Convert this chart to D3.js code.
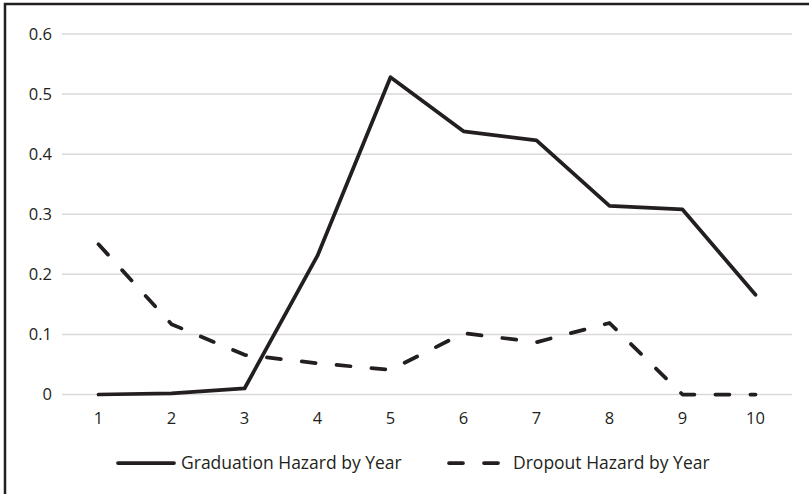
<!DOCTYPE html>
<html lang="en">
<head>
    <meta charset="UTF-8">
    <title>Graduation and Dropout Hazard by Year</title>
    <script src="https://d3js.org/d3.v7.min.js"></script>
    <style>
        body { margin: 0; background: #fff; }
        text { font-family: "Open Sans", sans-serif; fill: #231f20; }
    </style>
</head>
<body>
    <svg width="809" height="494"></svg>
    <script>
        const width = 809;
        const height = 494;

        // Data
        const years = ["1", "2", "3", "4", "5", "6", "7", "8", "9", "10"];
        const graduationHazard = [0, 0.002, 0.01, 0.231, 0.528, 0.438, 0.423, 0.314, 0.308, 0.166];
        const dropoutHazard = [0.25, 0.117, 0.066, 0.052, 0.041, 0.102, 0.087, 0.119, 0, 0];
        const yTicks = [0, 0.1, 0.2, 0.3, 0.4, 0.5, 0.6];
        const seriesNames = ["Graduation Hazard by Year", "Dropout Hazard by Year"];

        const ink = "#231f20";
        const svg = d3.select("svg");

        // frame (only left and top edges show in the crop)
        svg.append("path")
            .attr("d", `M5,${height} V4 H${width}`)
            .attr("fill", "none")
            .attr("stroke", ink)
            .attr("stroke-width", 2.5);

        const x = d3.scaleBand().domain(years).range([62, 792]);
        const y = d3.scaleLinear().domain([0, 0.6]).range([394.5, 34]);

        // gridlines
        svg.selectAll(".grid")
            .data(yTicks)
            .enter().append("line")
            .attr("class", "grid")
            .attr("x1", 62).attr("x2", 792)
            .attr("y1", d => y(d)).attr("y2", d => y(d))
            .attr("stroke", "#d9d9d9")
            .attr("stroke-width", 1.5);

        // y labels
        svg.selectAll(".ylab")
            .data(yTicks)
            .enter().append("text")
            .attr("class", "ylab")
            .attr("x", 52)
            .attr("y", d => y(d))
            .attr("dy", "0.35em")
            .attr("text-anchor", "end")
            .style("font-size", "16.5px")
            .text(d => d === 0 ? "0" : d3.format(".1f")(d));

        // x labels
        svg.selectAll(".xlab")
            .data(years)
            .enter().append("text")
            .attr("class", "xlab")
            .attr("x", d => x(d) + x.bandwidth() / 2)
            .attr("y", 418)
            .attr("dy", "0.35em")
            .attr("text-anchor", "middle")
            .style("font-size", "16.5px")
            .text(d => d);

        const line = d3.line()
            .x((d, i) => x(years[i]) + x.bandwidth() / 2)
            .y(d => y(d));

        // dropout (dashed)
        svg.append("path")
            .attr("d", line(dropoutHazard))
            .attr("fill", "none")
            .attr("stroke", ink)
            .attr("stroke-width", 3.75)
            .attr("stroke-linecap", "round")
            .attr("stroke-linejoin", "round")
            .attr("stroke-dasharray", "14,21");

        // graduation (solid)
        svg.append("path")
            .attr("d", line(graduationHazard))
            .attr("fill", "none")
            .attr("stroke", ink)
            .attr("stroke-width", 3.75)
            .attr("stroke-linecap", "round")
            .attr("stroke-linejoin", "round");

        // legend
        const legendY = 463;
        svg.append("line")
            .attr("x1", 118).attr("x2", 174)
            .attr("y1", legendY).attr("y2", legendY)
            .attr("stroke", ink).attr("stroke-width", 3.75)
            .attr("stroke-linecap", "round");
        svg.append("text")
            .attr("x", 181).attr("y", legendY)
            .attr("dy", "0.35em")
            .style("font-size", "17.5px")
            .text(seriesNames[0]);

        svg.append("line")
            .attr("x1", 449).attr("x2", 501)
            .attr("y1", legendY).attr("y2", legendY)
            .attr("stroke", ink).attr("stroke-width", 3.75)
            .attr("stroke-linecap", "round")
            .attr("stroke-dasharray", "14,21");
        svg.append("text")
            .attr("x", 513).attr("y", legendY)
            .attr("dy", "0.35em")
            .style("font-size", "17.5px")
            .text(seriesNames[1]);
    </script>
</body>
</html>
